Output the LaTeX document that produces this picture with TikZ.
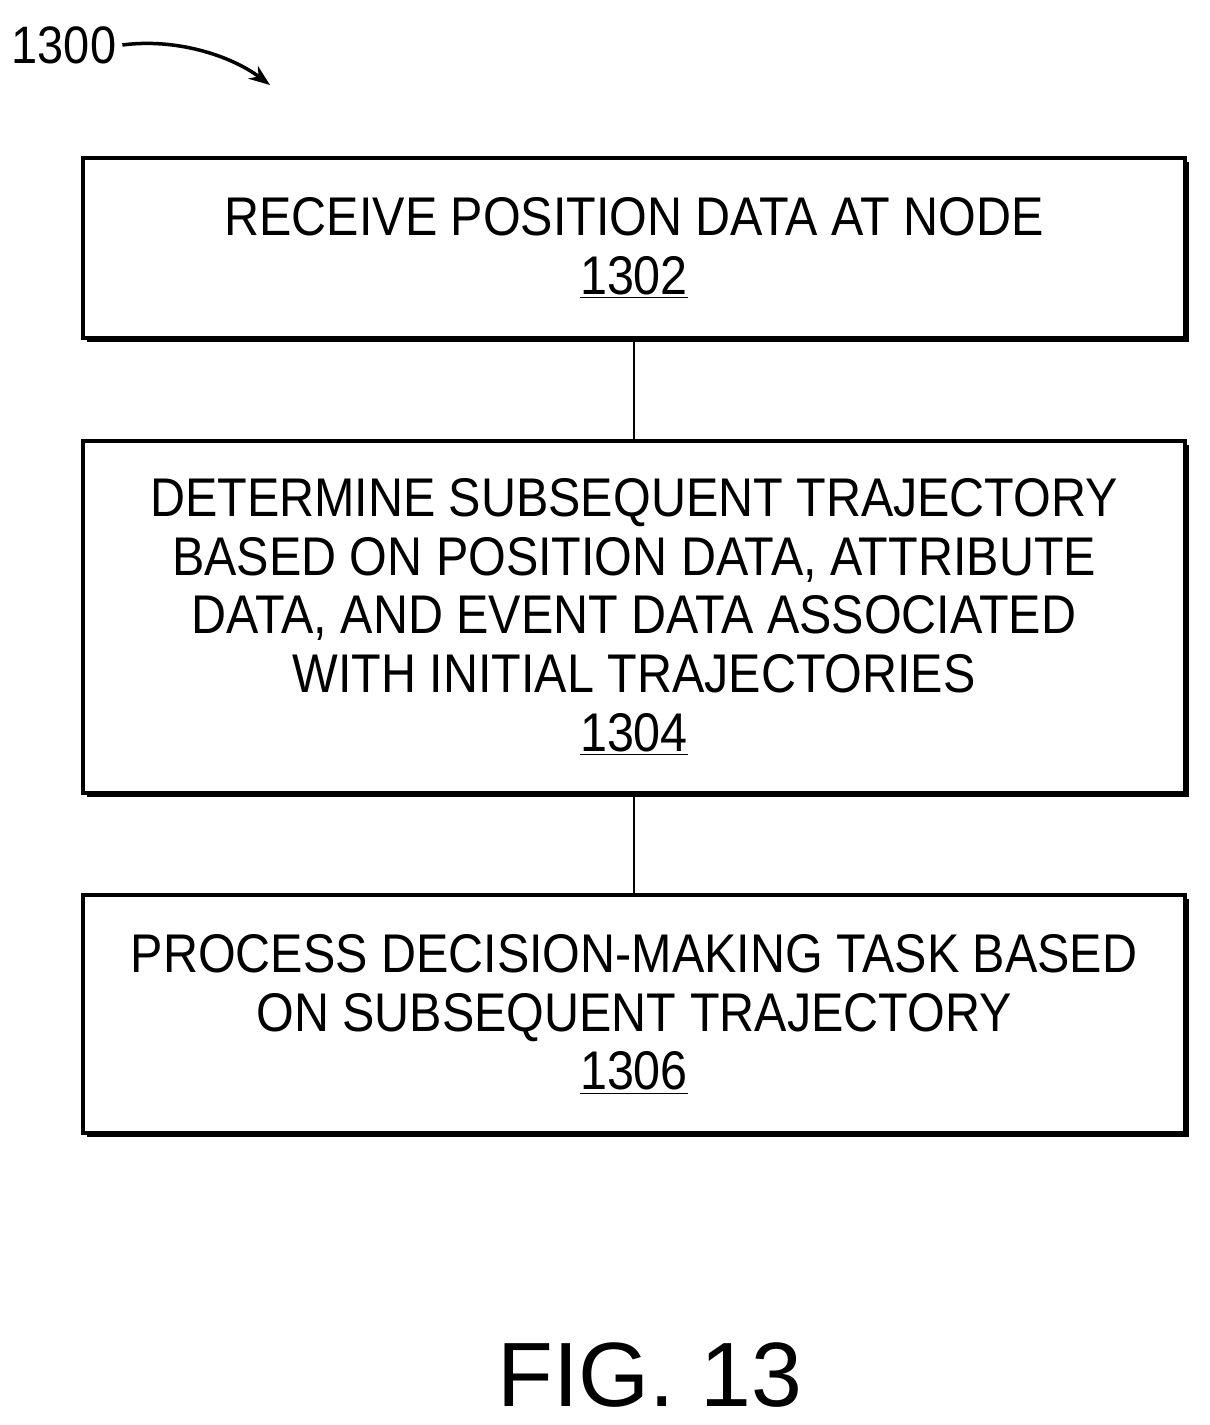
\documentclass[tikz,border=0pt]{standalone}
\usepackage{fontspec}
\setmainfont{Liberation Sans}
\newfontfamily\narrowfont[FakeStretch=0.89]{Liberation Sans}
\usetikzlibrary{arrows.meta, positioning}
\tikzset{
    stage/.style={
        rectangle,
        draw=black,
        line width=2.5pt,
        minimum width=22.04cm,
        fill=white,
        align=center,
        font=\narrowfont\fontsize{31}{33.5}\selectfont
    },
    shade/.style={
        fill=black
    },
    link/.style={
        draw=black,
        line width=1.5pt
    }
}
\newcommand{\refnum}[1]{\underline{#1}}
\begin{document}
\begin{tikzpicture}[x=0.02cm, y=-0.02cm]
\useasboundingbox (0,0) rectangle (1209,1425);

% label and pointer
\node[font=\narrowfont\fontsize{30}{32}\selectfont] (fig) at (64,45) {1300};
\coordinate (tip) at (270,85);
\draw[line width=2pt, -{Stealth[length=12pt,width=9pt]}] (fig.east) .. controls (175,38) and (230,55) .. (tip);

% shadows
\fill[shade] (87,162) rectangle (1189,342);
\fill[shade] (87,445) rectangle (1189,797);
\fill[shade] (87,899) rectangle (1189,1137);

% steps
\node[stage, minimum height=3.6cm] (recv) at (634,248) {RECEIVE POSITION DATA AT NODE\\\refnum{1302}};
\node[stage, minimum height=7.04cm] (traj) at (634,617) {DETERMINE SUBSEQUENT TRAJECTORY\\BASED ON POSITION DATA, ATTRIBUTE\\DATA, AND EVENT DATA ASSOCIATED\\WITH INITIAL TRAJECTORIES\\\refnum{1304}};
\node[stage, minimum height=4.76cm] (task) at (634,1014) {PROCESS DECISION-MAKING TASK BASED\\ON SUBSEQUENT TRAJECTORY\\\refnum{1306}};

% connectors
\draw[link] (recv) -- (traj);
\draw[link] (traj) -- (task);

\node[font=\fontsize{52}{56}\selectfont] (cap) at (650,1375) {FIG. 13};
\end{tikzpicture}
\end{document}
